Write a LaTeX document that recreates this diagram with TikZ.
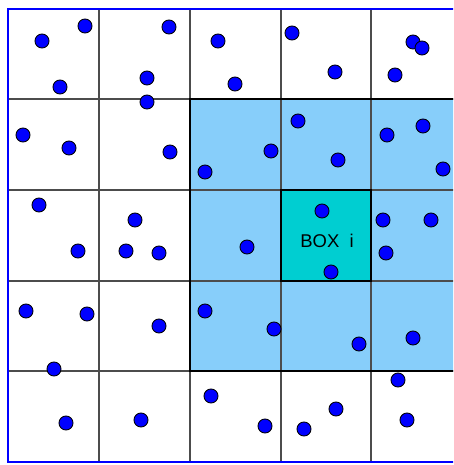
\documentclass[tikz,border=0pt]{standalone}
\usepackage{fontspec}
\setmainfont{Liberation Sans}
\definecolor{vecino}{RGB}{135,206,250}
\definecolor{caja}{RGB}{0,206,209}
\begin{document}
\begin{tikzpicture}[x=0.02cm, y=-0.02cm,
    particle/.style={draw=black, fill=blue, line width=0.5pt}]
    \useasboundingbox (0,0) rectangle (453,465);
    \clip (0,0) rectangle (453,465);
    % Celdas vecinas
    \fill[vecino] (190,99) rectangle (462,371);
    \fill[caja] (281,190) rectangle (371,281);
    % Rejilla
    \foreach \x in {99,190,281,371}
        \draw[black!70, line width=0.6pt] (\x,9) -- (\x,462);
    \foreach \y in {99,190,281,371}
        \draw[black!70, line width=0.6pt] (8,\y) -- (462,\y);
    \draw[line width=0.6pt] (190,99) rectangle (462,371);
    \draw[line width=0.6pt] (281,190) rectangle (371,281);
    % Borde
    \draw[blue, line width=1.2pt] (462,9) -- (8,9) -- (8,462) -- (462,462);
    % Etiqueta
    \node[font=\fontsize{10.5}{12}\selectfont] (box) at (327,241) {BOX\ \ i};
    % Particulas
    \foreach \x/\y in {42/41, 85/26, 60/87, 169/27, 147/78, 218/41, 235/84,
        292/33, 335/72, 413/42, 422/48, 395/75,
        147/102, 23/135, 69/148, 170/152, 205/172, 271/151, 298/121,
        338/160, 387/135, 423/126, 443/169,
        39/205, 135/220, 78/251, 126/251, 159/253, 247/247, 322/211,
        331/272, 383/220, 431/220, 386/253,
        26/311, 87/314, 159/326, 205/311, 274/329, 359/344, 413/338, 54/369,
        66/423, 141/420, 211/396, 265/426, 304/429, 336/409, 398/380, 407/420}
        \filldraw[particle] (\x,\y) circle (4pt);
\end{tikzpicture}
\end{document}
